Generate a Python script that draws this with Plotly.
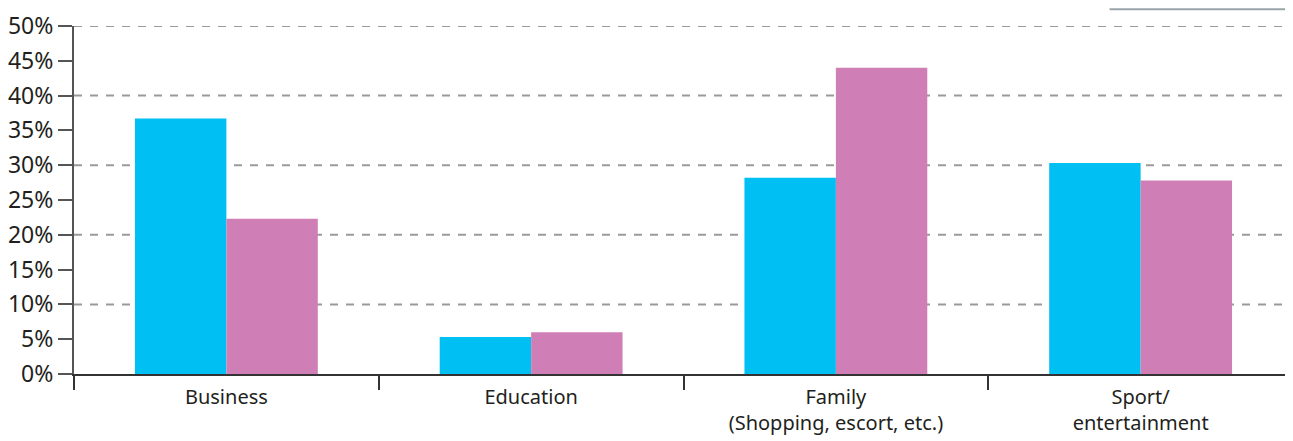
import plotly.graph_objects as go

categories = ["Business", "Education", "Family<br>(Shopping, escort, etc.)", "Sport/<br>entertainment"]
series1_name = "Series 1"
series1_values = [36.7, 5.3, 28.2, 30.3]
series2_name = "Series 2"
series2_values = [22.3, 6.0, 44.0, 27.8]
y_tickvals = [0, 5, 10, 15, 20, 25, 30, 35, 40, 45, 50]
y_ticktext = [f"{v}%" for v in y_tickvals]
grid_values = [10, 20, 30, 40, 50]

CYAN = "#00BFF3"
PINK = "#CF7FB5"
TEXT = "#231F20"
FONT = "Noto Sans"

fig = go.Figure()
fig.add_trace(go.Bar(x=categories, y=series1_values, name=series1_name,
                     marker=dict(color=CYAN, line=dict(width=0))))
fig.add_trace(go.Bar(x=categories, y=series2_values, name=series2_name,
                     marker=dict(color=PINK, line=dict(width=0))))

for g in grid_values:
    fig.add_hline(y=g, line=dict(color="#9A9A9A", width=2, dash="8px,8px"), layer="below")

# edge of a legend box cropped at the top of the picture
fig.add_shape(type="line", xref="paper", yref="paper", x0=0.8495, x1=0.9995, y0=1.048, y1=1.048,
              line=dict(color="#9AA4AA", width=2))

fig.update_layout(
    width=1285, height=433,
    margin=dict(l=66, r=0, t=18, b=67, autoexpand=False),
    plot_bgcolor="white", paper_bgcolor="white",
    barmode="group", bargap=0.4, bargroupgap=0,
    showlegend=False,
    font=dict(family=FONT, color=TEXT),
)
fig.update_xaxes(
    type="category", tickson="boundaries", ticks="outside", ticklen=14, tickwidth=1.5,
    tickcolor="#333333", showline=True, linecolor="#333333", linewidth=2,
    showgrid=False, tickfont=dict(size=20, family=FONT, color=TEXT),
    ticklabelstandoff=4, automargin=False,
)
fig.update_yaxes(
    range=[0, 50], tickvals=y_tickvals, ticktext=y_ticktext,
    ticks="outside", ticklen=14, tickwidth=2, tickcolor="#555555",
    showline=True, linecolor="#555555", linewidth=2, showgrid=False, zeroline=False,
    tickfont=dict(size=23, family=FONT, color=TEXT),
    ticklabeloverflow="allow", automargin=False,
)

fig.write_html("out.html")
